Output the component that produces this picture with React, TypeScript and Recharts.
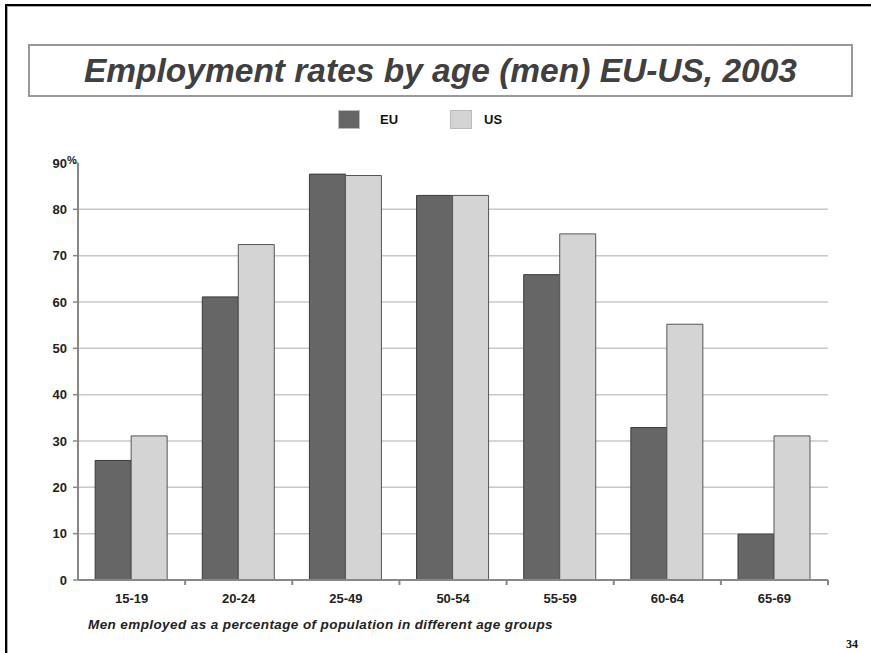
import React from 'react';
import { BarChart, Bar, XAxis, YAxis, CartesianGrid, Legend } from 'recharts';

const categories = ['15-19', '20-24', '25-49', '50-54', '55-59', '60-64', '65-69'];
const euValues = [25.8, 61.1, 87.6, 83.0, 65.9, 32.9, 9.9];
const usValues = [31.1, 72.4, 87.3, 83.0, 74.7, 55.2, 31.1];
const yTicks = [0, 10, 20, 30, 40, 50, 60, 70, 80, 90];
const gridValues = [10, 20, 30, 40, 50, 60, 70, 80];
const seriesNames = ['EU', 'US'];
const seriesColors = ['#666666', '#d4d4d4'];

const titleText = 'Employment rates by age (men) EU-US, 2003';
const subtitleText = 'Men employed as a percentage of population in different age groups';
const pageNumber = '34';

const data = categories.map((c, i) => ({ age: c, [seriesNames[0]]: euValues[i], [seriesNames[1]]: usValues[i] }));

const FONT = '"Liberation Sans", Arial, sans-serif';

const YTick = (props: any) => {
  const { x, y, payload } = props;
  const isTop = payload.value === yTicks[yTicks.length - 1];
  return (
    <g>
      <text x={x} y={y} dy={4.5} textAnchor="end" fontSize={13} fontWeight="bold" fill="#222" fontFamily={FONT}>
        {payload.value}
      </text>
      {isTop && (
        <text x={x} y={y} dy={1} textAnchor="start" fontSize={11} fontWeight="bold" fill="#222" fontFamily={FONT}>
          %
        </text>
      )}
    </g>
  );
};

const XTick = (props: any) => {
  const { x, y, payload } = props;
  const half = payload && typeof payload.offset === 'number' && payload.offset > 0 ? payload.offset : 750 / categories.length / 2;
  const axisY = y - 12;
  return (
    <g>
      <line x1={x + half} x2={x + half} y1={axisY} y2={axisY + 5} stroke="#888" strokeWidth={2} />
      <text x={x} y={y} dy={11} textAnchor="middle" fontSize={13} fontWeight="bold" fill="#222" fontFamily={FONT}>
        {payload.value}
      </text>
    </g>
  );
};

const LegendContent = (props: any) => {
  const { payload } = props;
  return (
    <div style={{ display: 'flex', alignItems: 'center' }}>
      {(payload || []).map((p: any, i: number) => (
        <div key={p.value} style={{ display: 'flex', alignItems: 'center', marginRight: i === 0 ? 52 : 0 }}>
          <div style={{ width: 22, height: 19, background: p.color, border: '1px solid #bbb', boxSizing: 'border-box' }} />
          <span style={{ marginLeft: i === 0 ? 20 : 12, fontFamily: FONT, fontWeight: 'bold', fontSize: 13, color: '#111' }}>
            {p.value}
          </span>
        </div>
      ))}
    </div>
  );
};

export default function App() {
  return (
    <div style={{ position: 'absolute', left: 0, top: 0, width: 871, height: 653, background: '#fff', overflow: 'hidden' }}>
      <div
        style={{
          position: 'absolute',
          left: 5,
          top: 4,
          width: 880,
          height: 660,
          borderTop: '2px solid #000',
          borderLeft: '2px solid #000',
          boxShadow: 'inset 1px 1px 0 #aaa',
        }}
      />
      <div
        style={{
          position: 'absolute',
          left: 28,
          top: 44,
          width: 825,
          height: 53,
          border: '2px solid #999',
          boxSizing: 'border-box',
          display: 'flex',
          alignItems: 'center',
          justifyContent: 'center',
          fontFamily: FONT,
          fontStyle: 'italic',
          fontWeight: 'bold',
          fontSize: 33.5,
          color: '#404040',
        }}
      >
        {titleText}
      </div>
      <div style={{ position: 'absolute', left: 0, top: 0 }}>
        <BarChart
          width={871}
          height={653}
          data={data}
          margin={{ top: 163, right: 43, bottom: 43, left: 18 }}
          barCategoryGap="16%"
          barGap={0}
        >
          <CartesianGrid
            vertical={false}
            stroke="#c8c8c8"
            strokeWidth={1.5}
            horizontalCoordinatesGenerator={(args: any) => {
              const s = args && args.yAxis && args.yAxis.scale;
              if (s && typeof s === 'function') return gridValues.map((v) => s(v));
              if (s && typeof s.map === 'function') return gridValues.map((v) => s.map(v));
              return [];
            }}
          />
          <Legend
            verticalAlign="middle"
            align="center"
            layout="horizontal"
            content={<LegendContent />}
            wrapperStyle={{ position: 'absolute', left: 338, top: 110, width: 300 }}
          />
          <XAxis
            dataKey="age"
            axisLine={{ stroke: '#888', strokeWidth: 2 }}
            tickLine={false}
            tickSize={0}
            tickMargin={12}
            height={30}
            tick={<XTick />}
            interval={0}
          />
          <YAxis
            domain={[0, 90]}
            ticks={yTicks}
            width={60}
            axisLine={{ stroke: '#888', strokeWidth: 2 }}
            tickLine={{ stroke: '#888', strokeWidth: 1.5 }}
            tickSize={5}
            tickMargin={6}
            tick={<YTick />}
            interval={0}
          />
          <Bar dataKey={seriesNames[0]} fill={seriesColors[0]} stroke="#3a3a3a" strokeWidth={1} isAnimationActive={false} />
          <Bar dataKey={seriesNames[1]} fill={seriesColors[1]} stroke="#555" strokeWidth={1} isAnimationActive={false} />
        </BarChart>
      </div>
      <div
        style={{
          position: 'absolute',
          left: 88,
          top: 617,
          fontFamily: FONT,
          fontStyle: 'italic',
          fontWeight: 'bold',
          fontSize: 13.5,
          letterSpacing: 0.4,
          color: '#222',
          whiteSpace: 'nowrap',
        }}
      >
        {subtitleText}
      </div>
      <div
        style={{
          position: 'absolute',
          left: 846,
          top: 637,
          fontFamily: '"Liberation Serif", "Times New Roman", serif',
          fontWeight: 'bold',
          fontSize: 12,
          color: '#111',
        }}
      >
        {pageNumber}
      </div>
    </div>
  );
}
